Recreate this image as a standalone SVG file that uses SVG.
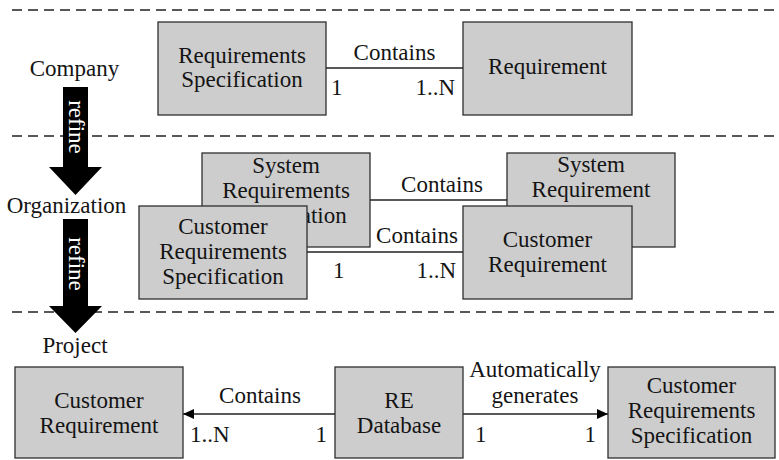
<svg xmlns="http://www.w3.org/2000/svg" width="779" height="460" viewBox="0 0 779 460">
  <style>
    .t text { font-size: 23px; fill: #141414; }
    .c { text-anchor: middle; }
    .e { text-anchor: end; }
    .box { fill: #cdcdcd; stroke: #2e2e2e; stroke-width: 1.3; }
    .lane { stroke: #222; stroke-width: 1.3; stroke-dasharray: 10 6; fill: none; }
    .link { stroke: #222; stroke-width: 1.3; fill: none; }
    .refine { fill: #000; }
    .t text.refine-label { fill: #fff; }
  </style>
  <defs>
    <marker id="head" viewBox="0 0 11 10" refX="11" refY="5" markerWidth="11" markerHeight="10" markerUnits="userSpaceOnUse" orient="auto">
      <path d="M0,0 L11,5 L0,10 z" fill="#000"/>
    </marker>
  </defs>

  <g class="t" font-family="'Liberation Serif', 'Times New Roman', 'DejaVu Serif', serif">
  <!-- level separators -->
  <g id="lanes">
    <line class="lane" x1="12" y1="10" x2="779" y2="10"/>
    <line class="lane" x1="12" y1="136" x2="779" y2="136"/>
    <line class="lane" x1="12" y1="312" x2="779" y2="312"/>
  </g>

  <!-- level names and refine arrows -->
  <g id="level-company"><text class="c" x="74.5" y="76">Company</text></g>
  <g id="level-organization"><text class="c" x="66.5" y="213">Organization</text></g>
  <g id="level-project"><text class="c" x="75" y="353">Project</text></g>

  <g id="refine-1">
    <path class="refine" d="M63,87 H88 V167 H102 L75.5,195 L49,167 H63 Z"/>
    <text class="c refine-label" transform="translate(75.5,127) rotate(90)" y="7">refine</text>
  </g>
  <g id="refine-2">
    <path class="refine" d="M63,219 H88 V306 H102 L75.5,333 L49,306 H63 Z"/>
    <text class="c refine-label" transform="translate(75.5,264) rotate(90)" y="7">refine</text>
  </g>

  <!-- company level -->
  <g id="company-spec">
    <rect class="box" x="158" y="22" width="168" height="93"/>
    <text class="c" x="242" y="63">Requirements</text>
    <text class="c" x="242" y="87">Specification</text>
  </g>
  <g id="company-req">
    <rect class="box" x="463" y="22" width="169" height="93"/>
    <text class="c" x="547.5" y="74">Requirement</text>
  </g>

  <!-- organization level, back layer -->
  <g id="org-sys-spec">
    <rect class="box" x="202" y="153" width="168" height="94"/>
    <text class="c" x="286" y="173">System</text>
    <text class="c" x="286" y="198">Requirements</text>
    <text class="c" x="286" y="223">Specification</text>
  </g>
  <g id="org-sys-req">
    <rect class="box" x="507" y="153" width="168" height="94"/>
    <text class="c" x="591" y="172">System</text>
    <text class="c" x="591" y="197">Requirement</text>
  </g>

  <g id="connectors">
    <line class="link" x1="326" y1="68" x2="463" y2="68"/>
    <text class="c" x="394.5" y="60">Contains</text>
    <text x="331" y="95">1</text>
    <text class="e" x="455" y="95">1..N</text>

    <line class="link" x1="370" y1="200" x2="507" y2="200"/>
    <text class="c" x="442" y="192">Contains</text>

    <line class="link" x1="307" y1="252" x2="463" y2="252"/>
    <text class="c" x="417" y="243">Contains</text>
    <text x="333" y="278">1</text>
    <text class="e" x="456" y="278">1..N</text>

    <line class="link" x1="335" y1="414" x2="183" y2="414" marker-end="url(#head)"/>
    <text class="c" x="260" y="403">Contains</text>
    <text x="190" y="442">1..N</text>
    <text class="e" x="327" y="442">1</text>

    <line class="link" x1="463" y1="414" x2="608" y2="414" marker-end="url(#head)"/>
    <text class="c" x="535" y="377">Automatically</text>
    <text class="c" x="535" y="403">generates</text>
    <text x="475" y="442">1</text>
    <text class="e" x="596" y="442">1</text>
  </g>

  <!-- organization level, front layer -->
  <g id="org-cust-spec">
    <rect class="box" x="139" y="206" width="168" height="93"/>
    <text class="c" x="223" y="234">Customer</text>
    <text class="c" x="223" y="259">Requirements</text>
    <text class="c" x="223" y="284">Specification</text>
  </g>
  <g id="org-cust-req">
    <rect class="box" x="463" y="206" width="169" height="93"/>
    <text class="c" x="547.5" y="247">Customer</text>
    <text class="c" x="547.5" y="272">Requirement</text>
  </g>

  <!-- project level -->
  <g id="proj-cust-req">
    <rect class="box" x="15" y="367" width="168" height="91"/>
    <text class="c" x="99" y="408">Customer</text>
    <text class="c" x="99" y="433">Requirement</text>
  </g>
  <g id="proj-re-db">
    <rect class="box" x="335" y="367" width="128" height="91"/>
    <text class="c" x="399" y="408">RE</text>
    <text class="c" x="399" y="433">Database</text>
  </g>
  <g id="proj-cust-spec">
    <rect class="box" x="608" y="367" width="167" height="91"/>
    <text class="c" x="691.5" y="393">Customer</text>
    <text class="c" x="691.5" y="418">Requirements</text>
    <text class="c" x="691.5" y="443">Specification</text>
  </g>
  </g>
</svg>
